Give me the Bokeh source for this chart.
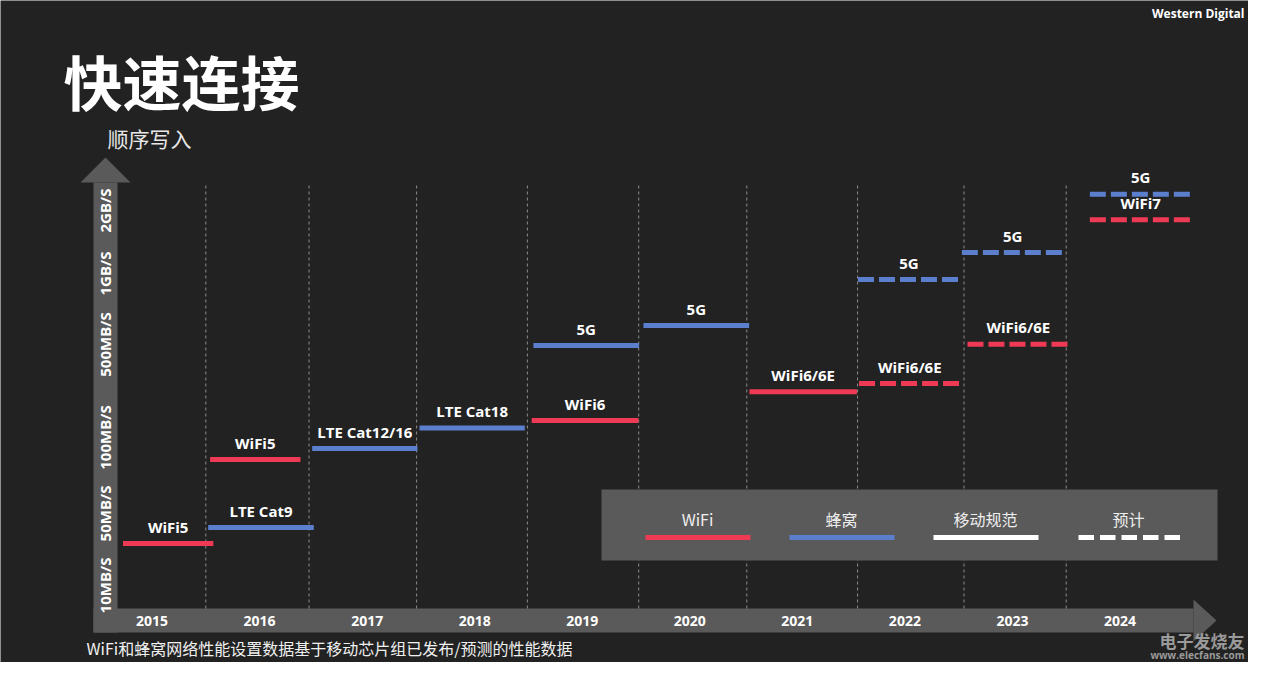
import math
from bokeh.plotting import figure
from bokeh.models import (Range1d, ColumnDataSource, BoxAnnotation, PolyAnnotation, Label)
from bokeh.core.properties import value
from bokeh.embed import file_html
from bokeh.resources import INLINE

# ---------------- data ----------------
years = [2015, 2016, 2017, 2018, 2019, 2020, 2021, 2022, 2023, 2024]
year_labels = ["2015", "2016", "2017", "2018", "2019", "2020", "2021", "2022", "2023", "2024"]
year_bounds = [2015.5, 2016.46, 2017.46, 2018.49, 2019.525, 2020.53, 2021.56, 2022.55, 2023.5]

speed_labels = ["10MB/S", "50MB/S", "100MB/S", "500MB/S", "1GB/S", "2GB/S"]
speed_ticks = [2.3, 9.5, 17.1, 26.4, 33.5, 39.8]

wifi_names = ["WiFi5", "WiFi5", "WiFi6", "WiFi6/6E", "WiFi6/6E", "WiFi6/6E", "WiFi7"]
wifi_start = [2014.73, 2015.54, 2018.53, 2020.555, 2021.574, 2022.582, 2023.72]
wifi_end = [2015.57, 2016.38, 2019.523, 2021.554, 2022.517, 2023.527, 2024.665]
wifi_level = [6.5, 14.9, 18.8, 21.67, 22.5, 26.42, 38.88]
wifi_projected = [False, False, False, False, True, True, True]

cell_names = ["LTE Cat9", "LTE Cat12/16", "LTE Cat18", "5G", "5G", "5G", "5G", "5G"]
cell_start = [2015.522, 2016.489, 2017.487, 2018.546, 2019.569, 2021.564, 2022.53, 2023.72]
cell_end = [2016.504, 2017.468, 2018.466, 2019.529, 2020.552, 2022.511, 2023.474, 2024.665]
cell_level = [8.1, 16.0, 18.05, 26.3, 28.3, 32.9, 35.6, 41.43]
cell_projected = [False, False, False, False, False, True, True, True]

legend_labels = ["WiFi", "蜂窝", "移动规范", "预计"]

title_text = "快速连接"
subtitle_text = "顺序写入"
note_text = "WiFi和蜂窝网络性能设置数据基于移动芯片组已发布/预测的性能数据"
brand_text = "Western Digital"
watermark_cn = "电子发烧友"
watermark_url = "www.elecfans.com"

# ---------------- styles ----------------
BG = "#222222"
BAND = "#5a5a5a"
RED = "#EF3A55"
BLUE = "#5B7FCC"
GRID = "#8c8c8c"
LATIN = "Open Sans"
CJK = "Noto Sans CJK SC"

W, H = 1248, 662

# the plotting frame fills the whole canvas; 107.55 px per year, 10 px per level unit
p = figure(width=W, height=H, output_backend="svg", toolbar_location=None, title=None,
           x_range=Range1d(2013.591, 2025.195), y_range=Range1d(-5.4, 60.8),
           x_axis_location=None, y_axis_location=None,
           min_border=0, min_border_left=0, min_border_right=0,
           min_border_top=0, min_border_bottom=0)
p.background_fill_color = BG
p.border_fill_color = BG
p.outline_line_color = None
p.xgrid.visible = False
p.ygrid.visible = False

# dashed year separators (from the plot floor to the top of the chart area)
SEP_TOP = 42.6
p.segment(x0=year_bounds, y0=[0] * len(year_bounds), x1=year_bounds,
          y1=[SEP_TOP] * len(year_bounds), line_color=GRID, line_dash="3 3", line_width=1)


# gray axis bands and arrow heads (decoration, canvas pixels)
def cbox(l, r, t, b, color, level="underlay"):
    return BoxAnnotation(left=l, right=r, top=t, bottom=b,
                         left_units="canvas", right_units="canvas",
                         top_units="canvas", bottom_units="canvas",
                         fill_color=color, fill_alpha=1.0, line_color=None, level=level)


def cpoly(pts, color, level="underlay"):
    return PolyAnnotation(xs=[a for a, b in pts], ys=[b for a, b in pts],
                          xs_units="canvas", ys_units="canvas",
                          fill_color=color, fill_alpha=1.0, line_color=None, level=level)


p.add_layout(cbox(93, 117, 182, 632, BAND))
p.add_layout(cbox(93, 1193, 608, 632, BAND))
p.add_layout(cpoly([(80, 182), (130, 182), (105, 157)], BAND))
p.add_layout(cpoly([(1193, 599), (1193, 641), (1216, 620)], BAND))

# axis tick labels (on the gray bands)
XLAB_Y = -1.2       # level of the x band centre
YLAB_X = 2014.567   # year position of the y band centre
p.text(x=years, y=[XLAB_Y] * len(years), text=year_labels, text_align="center",
       text_baseline="middle", text_color="#ffffff", text_font=value(LATIN),
       text_font_style="bold", text_font_size="14px")
p.text(x=[YLAB_X] * len(speed_ticks), y=speed_ticks, text=speed_labels, angle=math.pi / 2,
       text_align="center", text_baseline="middle", text_color="#ffffff",
       text_font=value(LATIN), text_font_style="bold", text_font_size="15px")


# ---------------- bars ----------------
def make_sources(names, start, end, level, proj):
    solid = dict(x0=[], x1=[], y=[], xc=[], name=[])
    dash = dict(x0=[], x1=[], y=[], xc=[], name=[])
    for n, s, e, l, pr in zip(names, start, end, level, proj):
        d = dash if pr else solid
        d["x0"].append(s)
        d["x1"].append(e)
        d["y"].append(l)
        d["xc"].append((s + e) / 2)
        d["name"].append(n)
    return ColumnDataSource(solid), ColumnDataSource(dash)


for names, start, end, level, proj, color in [
    (wifi_names, wifi_start, wifi_end, wifi_level, wifi_projected, RED),
    (cell_names, cell_start, cell_end, cell_level, cell_projected, BLUE),
]:
    s_src, d_src = make_sources(names, start, end, level, proj)
    p.segment(x0="x0", y0="y", x1="x1", y1="y", source=s_src, line_color=color, line_width=5)
    p.segment(x0="x0", y0="y", x1="x1", y1="y", source=d_src, line_color=color, line_width=5,
              line_dash="16 5")
    for src in (s_src, d_src):
        p.text(x="xc", y="y", text="name", source=src, text_align="center",
               text_baseline="middle", y_offset=-17, text_color="#ffffff",
               text_font=value(LATIN), text_font_style="bold", text_font_size="15px")

# ---------------- legend (custom panel) ----------------
p.add_layout(cbox(601, 1217, 489, 560, BAND, level="annotation"))
leg_centers = [697, 841, 985, 1128]
leg_x0 = [645, 789, 933, 1078]
leg_colors = [RED, BLUE, "#ffffff", "#ffffff"]
for i, (lab, cx, x0, col) in enumerate(zip(legend_labels, leg_centers, leg_x0, leg_colors)):
    p.add_layout(Label(x=cx, y=518, x_units="canvas", y_units="canvas", text=lab,
                       text_align="center", text_baseline="middle", text_color="#eeeeee",
                       text_font=CJK, text_font_size="16px"))
    if i < 3:
        p.add_layout(cbox(x0, x0 + 105, 534.5, 539.5, col, level="annotation"))
    else:
        for k in range(5):
            a = x0 + k * 21.5
            p.add_layout(cbox(a, a + 15.5, 534.5, 539.5, col, level="annotation"))


# ---------------- texts ----------------
def clabel(x, y, text, align, color, font, size, style="normal"):
    p.add_layout(Label(x=x, y=y, x_units="canvas", y_units="canvas", text=text,
                       text_align=align, text_baseline="middle", text_color=color,
                       text_font=font, text_font_style=style, text_font_size=size))


clabel(63, 80, title_text, "left", "#ffffff", CJK, "59px", "bold")
clabel(107, 137, subtitle_text, "left", "#e8e8e8", CJK, "21px")
clabel(86, 647, note_text, "left", "#f0f0f0", CJK, "16px")
clabel(1244, 13, brand_text, "right", "#ffffff", LATIN, "12px", "bold")
clabel(1244, 640, watermark_cn, "right", "#9a9a9a", CJK, "17px", "bold")
clabel(1244, 654, watermark_url, "right", "#9a9a9a", LATIN, "10px", "bold")

open("out.html", "w").write(file_html(p, INLINE))
